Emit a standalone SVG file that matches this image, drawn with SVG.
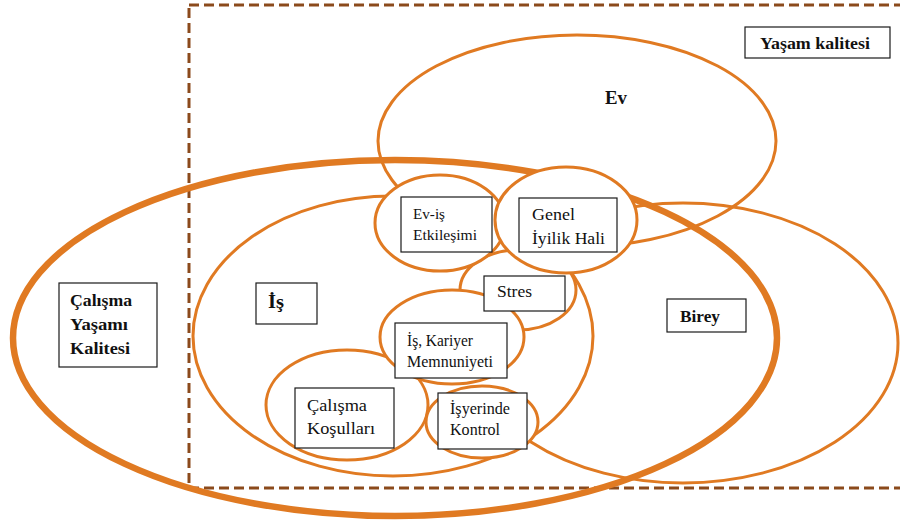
<svg xmlns="http://www.w3.org/2000/svg" width="900" height="524" viewBox="0 0 900 524">
<style>
.bg{fill:#ffffff}
.frame{fill:none;stroke:#8B4A1C;stroke-width:3;stroke-dasharray:10 5}
.ring{fill:none;stroke:#E07A22;stroke-width:3}
.ringw{fill:#ffffff;stroke:#E07A22;stroke-width:3}
.thick{fill:none;stroke:#E07A22;stroke-width:6.5}
.box{fill:#ffffff;stroke:#1a1a1a;stroke-width:1.2}
.t{font-family:"Liberation Serif","DejaVu Serif",serif;fill:#111111;font-size:16px}
.b{font-family:"Liberation Serif","DejaVu Serif",serif;fill:#111111;font-size:17.5px;font-weight:bold}
</style>
<rect class="bg" x="0" y="0" width="900" height="524"/>
<g id="yasam-kalitesi-frame">
<rect class="frame" x="189" y="5" width="716" height="483"/>
</g>
<g id="ev">
<ellipse class="ring" cx="577" cy="141" rx="199" ry="106"/>
<text class="b" x="605" y="104" style="font-size:18.5px" textLength="22" lengthAdjust="spacingAndGlyphs">Ev</text>
</g>
<g id="calisma-yasami-kalitesi">
<ellipse class="thick" cx="395" cy="338" rx="382" ry="178"/>
<rect class="box" x="59" y="283" width="98" height="84"/>
<text class="b" x="70" y="306" textLength="62" lengthAdjust="spacingAndGlyphs">Çalışma</text>
<text class="b" x="70" y="330" textLength="58" lengthAdjust="spacingAndGlyphs">Yaşamı</text>
<text class="b" x="70" y="354" textLength="60" lengthAdjust="spacingAndGlyphs">Kalitesi</text>
</g>
<g id="birey">
<ellipse class="ring" cx="683" cy="343" rx="215" ry="140"/>
<rect class="box" x="667" y="299" width="79" height="33"/>
<text class="b" x="680" y="322" textLength="40" lengthAdjust="spacingAndGlyphs">Birey</text>
</g>
<g id="is">
<ellipse class="ringw" cx="393" cy="336" rx="200" ry="140"/>
<rect class="box" x="256" y="283" width="61" height="41"/>
<text class="b" x="268" y="308" style="font-size:19px" textLength="16" lengthAdjust="spacingAndGlyphs">İş</text>
</g>
<g id="stres">
<ellipse class="ringw" cx="518" cy="290" rx="58" ry="40"/>
</g>
<g id="calisma-kosullari">
<ellipse class="ringw" cx="347" cy="405" rx="81" ry="55"/>
<rect class="box" x="295" y="388" width="99" height="60"/>
<text class="t" x="307" y="411" style="font-size:17.5px" textLength="60" lengthAdjust="spacingAndGlyphs">Çalışma</text>
<text class="t" x="307" y="434" style="font-size:17.5px" textLength="68" lengthAdjust="spacingAndGlyphs">Koşulları</text>
</g>
<g id="isyerinde-kontrol">
<ellipse class="ringw" cx="482" cy="422" rx="56" ry="36"/>
<rect class="box" x="438" y="393" width="89" height="56"/>
<text class="t" x="450" y="414" textLength="60" lengthAdjust="spacingAndGlyphs">İşyerinde</text>
<text class="t" x="450" y="435" textLength="50" lengthAdjust="spacingAndGlyphs">Kontrol</text>
</g>
<g id="is-kariyer-memnuniyeti">
<ellipse class="ringw" cx="452" cy="337" rx="72" ry="47"/>
<rect class="box" x="395" y="323" width="112" height="55"/>
<text class="t" x="407" y="346" textLength="66" lengthAdjust="spacingAndGlyphs">İş, Kariyer</text>
<text class="t" x="407" y="367" textLength="86" lengthAdjust="spacingAndGlyphs">Memnuniyeti</text>
</g>
<g id="stres-label">
<rect class="box" x="484" y="276" width="81" height="35"/>
<text class="t" x="497" y="297" style="font-size:17.5px" textLength="35" lengthAdjust="spacingAndGlyphs">Stres</text>
</g>
<g id="ev-is-etkilesimi">
<ellipse class="ringw" cx="440" cy="223" rx="65" ry="48"/>
<rect class="box" x="401" y="197" width="91" height="55"/>
<text class="t" x="413" y="219" style="font-size:15.5px" textLength="32" lengthAdjust="spacingAndGlyphs">Ev-iş</text>
<text class="t" x="413" y="240" style="font-size:15.5px" textLength="64" lengthAdjust="spacingAndGlyphs">Etkileşimi</text>
</g>
<g id="genel-iyilik-hali">
<ellipse class="ringw" cx="566" cy="220" rx="71" ry="53"/>
<rect class="box" x="519" y="198" width="98" height="54"/>
<text class="t" x="532" y="220" style="font-size:17.5px" textLength="43" lengthAdjust="spacingAndGlyphs">Genel</text>
<text class="t" x="532" y="244" style="font-size:17.5px" textLength="73" lengthAdjust="spacingAndGlyphs">İyilik Hali</text>
</g>
<g id="yasam-kalitesi-label">
<rect class="box" x="745" y="27" width="145" height="31"/>
<text class="b" x="760" y="49" textLength="110" lengthAdjust="spacingAndGlyphs">Yaşam kalitesi</text>
</g>
<g id="connectors"></g>
</svg>
